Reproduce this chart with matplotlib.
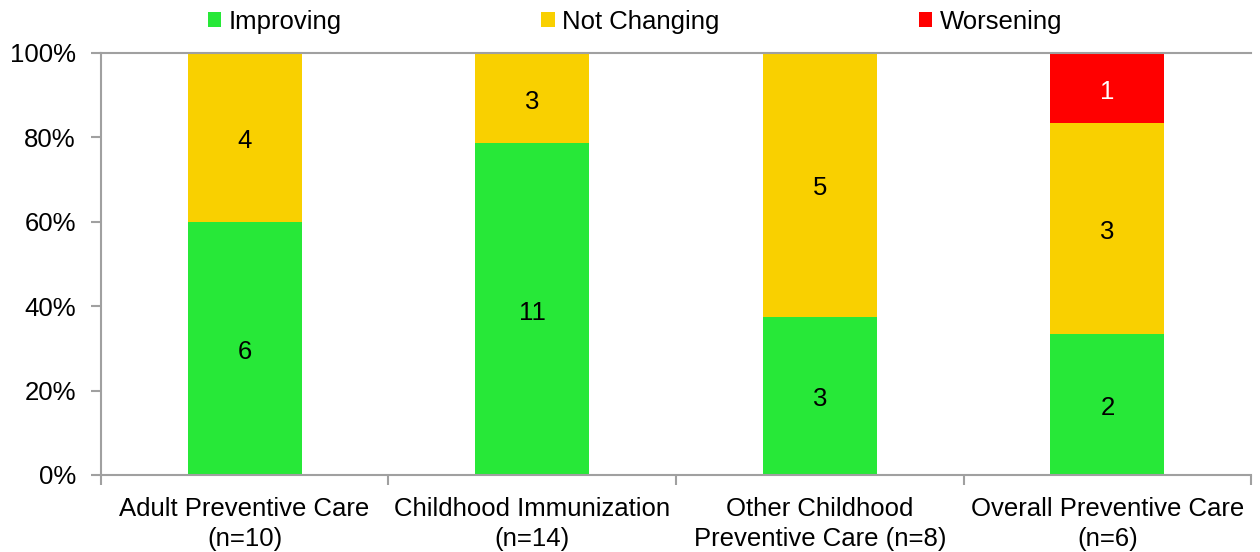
import matplotlib
matplotlib.use("Agg")
import matplotlib.pyplot as plt
import numpy as np
from matplotlib.patches import Patch
from matplotlib.ticker import FixedLocator, PercentFormatter

plt.rcParams['font.family'] = ['Liberation Sans', 'DejaVu Sans']

categories = ["Adult Preventive Care\n(n=10)", "Childhood Immunization\n(n=14)",
              "Other Childhood\nPreventive Care (n=8)", "Overall Preventive Care\n(n=6)"]
improving = [6, 11, 3, 2]
not_changing = [4, 3, 5, 3]
worsening = [0, 0, 0, 1]
series_names = ["Improving", "Not Changing", "Worsening"]
colors = ["#27E838", "#F9D000", "#FF0000"]
text_colors = ["black", "black", "white"]

counts = np.array([improving, not_changing, worsening], dtype=float)
totals = counts.sum(axis=0)
pcts = counts / totals * 100

fig = plt.figure(figsize=(12.6, 5.52), dpi=100)
ax = fig.add_axes([0.080, 0.1395, 0.913, 0.7645])

x = np.arange(len(categories))
bottom = np.zeros(len(categories))
fs = 18.5
for i in range(3):
    ax.bar(x, pcts[i], bottom=bottom, width=0.397, color=colors[i], label=series_names[i], zorder=2)
    for j in range(len(categories)):
        if counts[i, j] > 0:
            ax.annotate(f"{int(counts[i, j])}", (x[j], bottom[j] + pcts[i, j] / 2),
                        xytext=(0, -2.5), textcoords='offset points',
                        ha='center', va='center', fontsize=fs, color=text_colors[i], zorder=3)
    bottom += pcts[i]

ax.set_xlim(-0.5, len(categories) - 0.5)
ax.set_ylim(0, 100)
ax.set_yticks(np.arange(0, 101, 20))
ax.yaxis.set_major_formatter(PercentFormatter(decimals=0))
ax.set_xticks(x)
ax.set_xticklabels(categories, fontsize=fs, linespacing=1.3)
ax.xaxis.set_minor_locator(FixedLocator(np.arange(-0.5, len(categories), 1.0)))
ax.tick_params(axis='x', which='major', length=0, pad=16)
ax.tick_params(axis='x', which='minor', length=7, width=1.5, color='#A0A0A0', direction='out')
ax.tick_params(axis='y', length=7, width=1.5, color='#A0A0A0', direction='out', labelsize=fs, pad=11)

for s in ['left', 'bottom', 'top']:
    ax.spines[s].set_color('#A0A0A0')
    ax.spines[s].set_linewidth(1.5)
ax.spines['right'].set_visible(False)

handles = [Patch(facecolor=c, edgecolor='none') for c in colors]
fig.legend(handles, series_names, loc='center left', bbox_to_anchor=(0.165, 0.960), ncol=3,
           frameon=False, fontsize=fs, handlelength=0.52, handleheight=0.52, handletextpad=0.3,
           columnspacing=7.75, borderpad=0, borderaxespad=0)

fig.savefig("out.png", dpi=100)
